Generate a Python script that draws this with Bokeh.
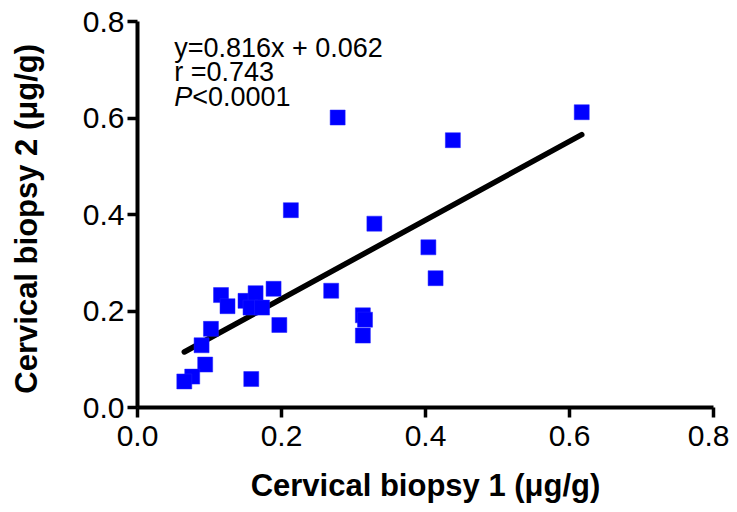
from bokeh.plotting import figure
from bokeh.models import Range1d, FixedTicker, Label, PrintfTickFormatter
from bokeh.embed import file_html
from bokeh.resources import INLINE

# Data
biopsy1 = [0.617, 0.278, 0.438, 0.213, 0.329, 0.404, 0.414, 0.269, 0.189, 0.197,
           0.313, 0.316, 0.313, 0.116, 0.125, 0.150, 0.164, 0.157, 0.173, 0.102,
           0.089, 0.094, 0.076, 0.065, 0.158]
biopsy2 = [0.612, 0.601, 0.554, 0.409, 0.381, 0.332, 0.268, 0.242, 0.246, 0.171,
           0.191, 0.182, 0.149, 0.233, 0.210, 0.221, 0.237, 0.207, 0.207, 0.163,
           0.129, 0.089, 0.064, 0.054, 0.059]
slope = 0.816
intercept = 0.062
ticks = [0.0, 0.2, 0.4, 0.6, 0.8]

FONT = "Liberation Sans"

p = figure(width=729, height=510, output_backend="svg", toolbar_location=None,
           x_range=Range1d(0, 0.8), y_range=Range1d(0, 0.8),
           min_border_left=137, min_border_right=16, min_border_top=21,
           min_border_bottom=103)
p.outline_line_color = None
p.grid.visible = False
p.background_fill_color = "white"
p.border_fill_color = "white"

# regression line over the data range
xs = [min(biopsy1), max(biopsy1)]
ys = [slope * v + intercept for v in xs]
p.line(xs, ys, line_color="black", line_width=5.5, line_cap="round")

p.scatter(biopsy1, biopsy2, marker="square", size=15, fill_color="#0000FF",
          line_color="#2020FF", line_width=0.5)

for ax in (p.xaxis[0], p.yaxis[0]):
    ax.ticker = FixedTicker(ticks=ticks)
    ax.formatter = PrintfTickFormatter(format="%.1f")
    ax.axis_line_width = 4
    ax.major_tick_line_width = 3.5
    ax.major_tick_out = 10
    ax.major_tick_in = 0
    ax.minor_tick_line_color = None
    ax.major_label_text_font = FONT
    ax.major_label_text_font_size = "30px"
    ax.major_label_text_color = "black"
    ax.axis_label_text_font = FONT
    ax.axis_label_text_font_style = "bold"
    ax.axis_label_text_font_size = "31px"
    ax.axis_label_text_color = "black"

p.xaxis.major_label_standoff = 8
p.yaxis.major_label_standoff = 3
p.xaxis.axis_label = "Cervical biopsy 1 (\u03bcg/g)"
p.yaxis.axis_label = "Cervical  biopsy 2 (\u03bcg/g)"
p.xaxis.axis_label_standoff = 19
p.yaxis.axis_label_standoff = 36

common = dict(text_font=FONT, text_font_size="27px", text_color="black",
              text_baseline="alphabetic", text_align="left")
p.add_layout(Label(x=0.051, y=0.745, text="y=0.816x + 0.062", **common))
p.add_layout(Label(x=0.051, y=0.695, text="r =0.743", **common))
p.add_layout(Label(x=0.051, y=0.643, text="P", text_font_style="italic", **common))
p.add_layout(Label(x=0.051, y=0.643, x_offset=18, text="<0.0001", **common))

open("out.html", "w").write(file_html(p, INLINE))
